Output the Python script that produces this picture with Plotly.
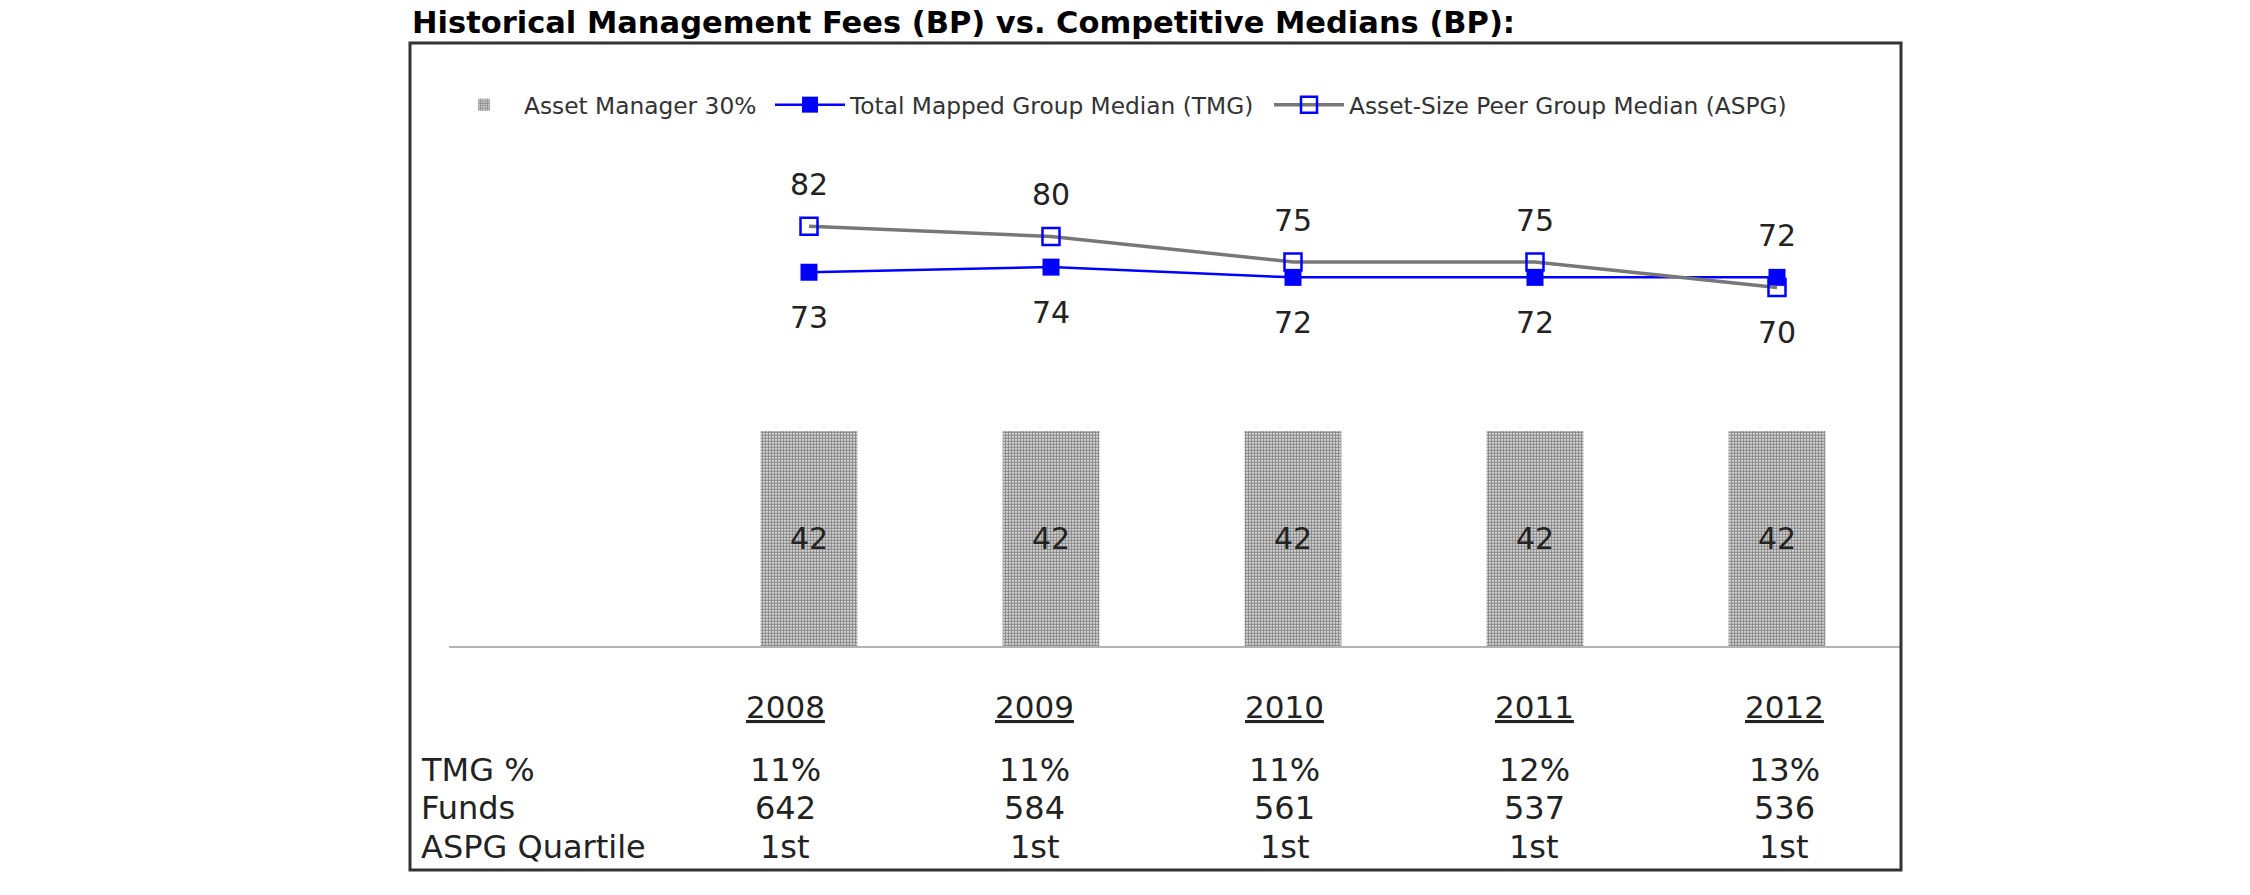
import plotly.graph_objects as go

# ---- data ----
years = ["2008", "2009", "2010", "2011", "2012"]
asset_manager = [42, 42, 42, 42, 42]
tmg_median = [73, 74, 72, 72, 72]
aspg_median = [82, 80, 75, 75, 70]
tmg_pct = ["11%", "11%", "11%", "12%", "13%"]
funds = [642, 584, 561, 537, 536]
aspg_quartile = ["1st", "1st", "1st", "1st", "1st"]
row_labels = ["TMG %", "Funds", "ASPG Quartile"]

FONT = "DejaVu Sans"
W, H = 2250, 895
L, R, T, B = 449, 349, 134, 249
PW, PH = W - L - R, H - T - B

def px_x(px):
    return (px - L) / PW

def px_y(py):
    return (H - B - py) / PH

xs = list(range(len(years)))

fig = go.Figure()
fig.add_trace(go.Bar(
    x=xs, y=asset_manager, width=0.4, name="Asset Manager 30%",
    legend="legend",
    marker=dict(color="white", line=dict(width=0),
                pattern=dict(shape=".", size=3, solidity=0.7,
                             fgcolor="#111111", bgcolor="white")),
    text=[str(v) for v in asset_manager], textposition="inside",
    insidetextanchor="middle", textangle=0,
    textfont=dict(family=FONT, size=30, color="#222222"),
))
fig.add_trace(go.Scatter(
    x=xs, y=tmg_median, mode="lines+markers",
    name="Total Mapped Group Median (TMG)", legend="legend2",
    line=dict(color="#0000ff", width=2.5),
    marker=dict(symbol="square", size=17, color="#0000ff"),
))
fig.add_trace(go.Scatter(
    x=xs, y=aspg_median, mode="lines+markers",
    name="Asset-Size Peer Group Median (ASPG)", legend="legend3",
    line=dict(color="#777777", width=3.5),
    marker=dict(symbol="square-open", size=17, color="#0000ff",
                line=dict(width=2.5, color="#0000ff")),
))

ann = []
# point labels: higher value above, lower value below
for i in xs:
    for series in (tmg_median, aspg_median):
        other = aspg_median if series is tmg_median else tmg_median
        above = series[i] > other[i]
        ann.append(dict(x=i, y=series[i], xref="x", yref="y",
                        text=str(series[i]), showarrow=False,
                        yshift=42 if above else -45,
                        font=dict(family=FONT, size=30, color="#222222")))

# table under the chart
col_shift = lambda i: -24 + 7.75 * i
row_y = [px_y(770), px_y(808), px_y(847)]
for i in xs:
    ann.append(dict(x=i, y=px_y(707), xref="x", yref="paper",
                    text="<u>" + years[i] + "</u>", showarrow=False,
                    xshift=col_shift(i), yanchor="middle",
                    font=dict(family=FONT, size=31, color="#222222")))
    for r, vals in enumerate((tmg_pct, funds, aspg_quartile)):
        ann.append(dict(x=i, y=row_y[r], xref="x", yref="paper",
                        text=str(vals[i]), showarrow=False,
                        xshift=col_shift(i), yanchor="middle",
                        font=dict(family=FONT, size=32, color="#222222")))
for r, lab in enumerate(row_labels):
    ann.append(dict(x=px_x(419), y=row_y[r], xref="paper", yref="paper",
                    text=lab, showarrow=False, xanchor="left",
                    yanchor="middle",
                    font=dict(family=FONT, size=32, color="#222222")))

def legend_at(px_left):
    return dict(orientation="h", x=px_x(px_left), xanchor="left", y=px_y(105),
                yanchor="middle", bgcolor="rgba(0,0,0,0)",
                font=dict(family=FONT, size=23.3, color="#333333"),
                itemwidth=70)

fig.update_layout(
    width=W, height=H, autosize=False,
    margin=dict(l=L, r=R, t=T, b=B, pad=0),
    paper_bgcolor="white", plot_bgcolor="white",
    title=dict(text="<b>Historical Management Fees (BP) vs. Competitive Medians (BP):</b>",
               xref="container", yref="container", x=412 / W, xanchor="left",
               y=1 - 22 / H, yanchor="middle",
               font=dict(family=FONT, size=30.5, color="#000000")),
    xaxis=dict(range=[-(809 - L) / 242, 4 + (1901 - 1777) / 242],
               showgrid=False, zeroline=False, showticklabels=False,
               ticks="", showline=True, linecolor="#b4b4b4", linewidth=2),
    yaxis=dict(range=[0, 100], visible=False, showgrid=False, zeroline=False),
    showlegend=True,
    legend=legend_at(444),
    legend2=legend_at(770),
    legend3=legend_at(1269),
    annotations=ann,
    shapes=[dict(type="rect", xref="paper", yref="paper",
                 x0=px_x(410), x1=px_x(1901), y0=px_y(870), y1=px_y(43),
                 line=dict(color="#333333", width=3), fillcolor="rgba(0,0,0,0)",
                 layer="above")],
)

fig.write_html("out.html")
